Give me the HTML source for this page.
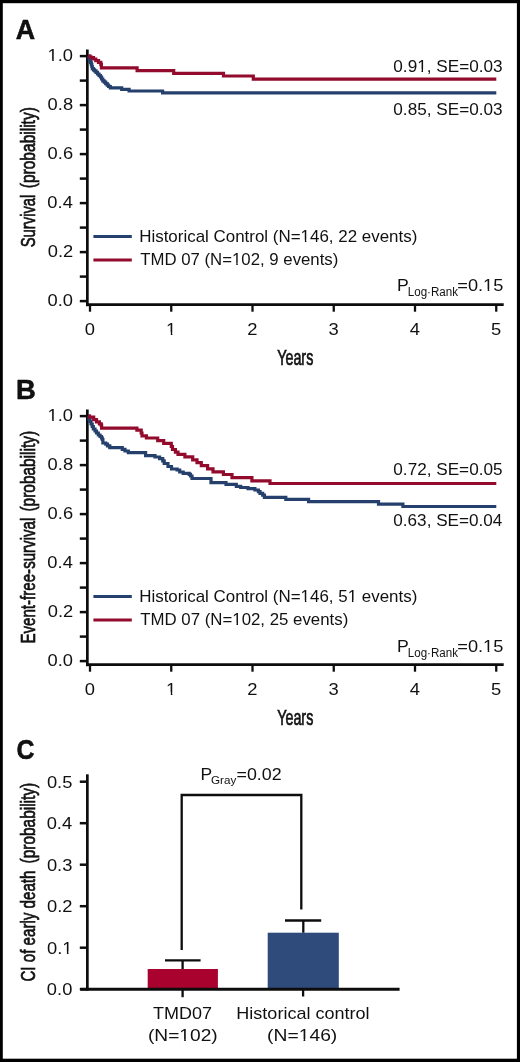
<!DOCTYPE html>
<html><head><meta charset="utf-8"><style>
html,body{margin:0;padding:0;background:#fff;}
#f{position:relative;width:520px;height:1062px;overflow:hidden;background:#fff;}
#f svg{position:absolute;left:0;top:0;will-change:transform;}
text{font-family:"Liberation Sans",sans-serif;}
</style></head><body><div id="f">
<svg width="520" height="1062" viewBox="0 0 520 1062">
<rect x="0" y="0" width="520" height="1062" fill="#fff"/>
<line x1="87.35" y1="49.5" x2="87.35" y2="306.2" stroke="#0d0d0d" stroke-width="2.7" stroke-linecap="butt"/>
<line x1="79.8" y1="56.1" x2="87.3" y2="56.1" stroke="#0d0d0d" stroke-width="2.5" stroke-linecap="butt"/>
<line x1="79.8" y1="80.6" x2="87.3" y2="80.6" stroke="#0d0d0d" stroke-width="2.5" stroke-linecap="butt"/>
<line x1="79.8" y1="105.1" x2="87.3" y2="105.1" stroke="#0d0d0d" stroke-width="2.5" stroke-linecap="butt"/>
<line x1="79.8" y1="129.6" x2="87.3" y2="129.6" stroke="#0d0d0d" stroke-width="2.5" stroke-linecap="butt"/>
<line x1="79.8" y1="154.1" x2="87.3" y2="154.1" stroke="#0d0d0d" stroke-width="2.5" stroke-linecap="butt"/>
<line x1="79.8" y1="178.6" x2="87.3" y2="178.6" stroke="#0d0d0d" stroke-width="2.5" stroke-linecap="butt"/>
<line x1="79.8" y1="203.1" x2="87.3" y2="203.1" stroke="#0d0d0d" stroke-width="2.5" stroke-linecap="butt"/>
<line x1="79.8" y1="227.6" x2="87.3" y2="227.6" stroke="#0d0d0d" stroke-width="2.5" stroke-linecap="butt"/>
<line x1="79.8" y1="252.1" x2="87.3" y2="252.1" stroke="#0d0d0d" stroke-width="2.5" stroke-linecap="butt"/>
<line x1="79.8" y1="276.6" x2="87.3" y2="276.6" stroke="#0d0d0d" stroke-width="2.5" stroke-linecap="butt"/>
<line x1="79.8" y1="301.1" x2="87.3" y2="301.1" stroke="#0d0d0d" stroke-width="2.5" stroke-linecap="butt"/>
<line x1="86.2" y1="304.7" x2="503.7" y2="304.7" stroke="#0d0d0d" stroke-width="2.7" stroke-linecap="butt"/>
<line x1="90.0" y1="304.7" x2="90.0" y2="311.7" stroke="#0d0d0d" stroke-width="2.3" stroke-linecap="butt"/>
<line x1="171.25" y1="304.7" x2="171.25" y2="311.7" stroke="#0d0d0d" stroke-width="2.3" stroke-linecap="butt"/>
<line x1="252.5" y1="304.7" x2="252.5" y2="311.7" stroke="#0d0d0d" stroke-width="2.3" stroke-linecap="butt"/>
<line x1="333.75" y1="304.7" x2="333.75" y2="311.7" stroke="#0d0d0d" stroke-width="2.3" stroke-linecap="butt"/>
<line x1="415.0" y1="304.7" x2="415.0" y2="311.7" stroke="#0d0d0d" stroke-width="2.3" stroke-linecap="butt"/>
<line x1="496.25" y1="304.7" x2="496.25" y2="311.7" stroke="#0d0d0d" stroke-width="2.3" stroke-linecap="butt"/>
<line x1="93.4" y1="236.6" x2="131.8" y2="236.6" stroke="#25406D" stroke-width="3" stroke-linecap="butt"/>
<line x1="93.4" y1="259.9" x2="131.8" y2="259.9" stroke="#930B2C" stroke-width="3" stroke-linecap="butt"/>
<line x1="87.35" y1="409.5" x2="87.35" y2="666.2" stroke="#0d0d0d" stroke-width="2.7" stroke-linecap="butt"/>
<line x1="79.8" y1="416.1" x2="87.3" y2="416.1" stroke="#0d0d0d" stroke-width="2.5" stroke-linecap="butt"/>
<line x1="79.8" y1="440.6" x2="87.3" y2="440.6" stroke="#0d0d0d" stroke-width="2.5" stroke-linecap="butt"/>
<line x1="79.8" y1="465.1" x2="87.3" y2="465.1" stroke="#0d0d0d" stroke-width="2.5" stroke-linecap="butt"/>
<line x1="79.8" y1="489.6" x2="87.3" y2="489.6" stroke="#0d0d0d" stroke-width="2.5" stroke-linecap="butt"/>
<line x1="79.8" y1="514.1" x2="87.3" y2="514.1" stroke="#0d0d0d" stroke-width="2.5" stroke-linecap="butt"/>
<line x1="79.8" y1="538.6" x2="87.3" y2="538.6" stroke="#0d0d0d" stroke-width="2.5" stroke-linecap="butt"/>
<line x1="79.8" y1="563.1" x2="87.3" y2="563.1" stroke="#0d0d0d" stroke-width="2.5" stroke-linecap="butt"/>
<line x1="79.8" y1="587.6" x2="87.3" y2="587.6" stroke="#0d0d0d" stroke-width="2.5" stroke-linecap="butt"/>
<line x1="79.8" y1="612.1" x2="87.3" y2="612.1" stroke="#0d0d0d" stroke-width="2.5" stroke-linecap="butt"/>
<line x1="79.8" y1="636.6" x2="87.3" y2="636.6" stroke="#0d0d0d" stroke-width="2.5" stroke-linecap="butt"/>
<line x1="79.8" y1="661.1" x2="87.3" y2="661.1" stroke="#0d0d0d" stroke-width="2.5" stroke-linecap="butt"/>
<line x1="86.2" y1="664.7" x2="503.7" y2="664.7" stroke="#0d0d0d" stroke-width="2.7" stroke-linecap="butt"/>
<line x1="90.0" y1="664.7" x2="90.0" y2="671.7" stroke="#0d0d0d" stroke-width="2.3" stroke-linecap="butt"/>
<line x1="171.25" y1="664.7" x2="171.25" y2="671.7" stroke="#0d0d0d" stroke-width="2.3" stroke-linecap="butt"/>
<line x1="252.5" y1="664.7" x2="252.5" y2="671.7" stroke="#0d0d0d" stroke-width="2.3" stroke-linecap="butt"/>
<line x1="333.75" y1="664.7" x2="333.75" y2="671.7" stroke="#0d0d0d" stroke-width="2.3" stroke-linecap="butt"/>
<line x1="415.0" y1="664.7" x2="415.0" y2="671.7" stroke="#0d0d0d" stroke-width="2.3" stroke-linecap="butt"/>
<line x1="496.25" y1="664.7" x2="496.25" y2="671.7" stroke="#0d0d0d" stroke-width="2.3" stroke-linecap="butt"/>
<line x1="93.4" y1="596.6" x2="131.8" y2="596.6" stroke="#25406D" stroke-width="3" stroke-linecap="butt"/>
<line x1="93.4" y1="619.9" x2="131.8" y2="619.9" stroke="#930B2C" stroke-width="3" stroke-linecap="butt"/>
<path d="M88.3,56.1 H89 V58 H89.8 V60.6 H90.6 V62.5 H91.25 V64.4 H91.8 V66.5 H92.3 V68.7 H93.5 V69.8 H94.6 V70.8 H96 V72.4 H97.5 V74 H99 V75.5 H100.4 V77 H101.6 V79 H102.8 V80.8 H104.2 V82.2 H105.7 V83.7 H107.2 V85.1 H108.6 V86.5 H110.3 V87.9 H121.7 V89.3 H129.1 V91 H162.6 V92.8 H496.3" fill="none" stroke="#25406D" stroke-width="3.2" stroke-linejoin="miter"/>
<path d="M88.3,56.1 H90 V57 H91.2 V57.6 H93.5 V59 H95.8 V60.6 H98.5 V62.4 H100.8 V64.3 H101.4 V67.8 H137.1 V70.6 H173.7 V73.3 H223.5 V76.0 H253.3 V79.1 H496.3" fill="none" stroke="#930B2C" stroke-width="3.2" stroke-linejoin="miter"/>
<path d="M88.3,416.1 H89 V419 H90 V421.5 H91 V424 H92.2 V426.5 H93.3 V429 H95 V431 H96.5 V433 H98.3 V435 H100 V436.5 H101.5 V438 H102.3 V439.5 H102.9 V443 H105.8 V444.2 H107.5 V445.8 H109.8 V447.7 H122.3 V449.4 H125 V451 H128.3 V452.6 H145.6 V455.6 H155 V457 H159.6 V458.6 H162.7 V460.8 H164.2 V463.5 H168 V466.5 H171.5 V469 H177.1 V470 H179.7 V472 H183.2 V473.3 H189.2 V474.3 H190.5 V476 H192 V478.5 H211 V482.7 H226 V484.4 H236.3 V486.4 H240.7 V487.5 H248 V488.7 H254.9 V490 H258.4 V491.6 H260 V493.4 H262.7 V495.1 H264.4 V497.3 H285.8 V499.4 H308.6 V501.7 H378.5 V504.2 H402.9 V506.5 H496.3" fill="none" stroke="#25406D" stroke-width="3.2" stroke-linejoin="miter"/>
<path d="M88.3,416.1 H89.5 V417.1 H93.7 V419.6 H96.5 V421.9 H99.4 V423.8 H101.2 V425.2 H101.6 V428.1 H136.9 V430.2 H141.2 V433 H142 V435.8 H146.4 V438 H157.7 V440.6 H163.7 V443.3 H171.3 V446.5 H172.5 V449.5 H175.4 V452.1 H178 V454.3 H184.9 V456.9 H192.7 V459.9 H197 V462.6 H201.3 V465.7 H207.6 V468.8 H213 V471.9 H223.4 V474.5 H232 V477.7 H251.9 V480.8 H270 V483.5 H496.3" fill="none" stroke="#930B2C" stroke-width="3.2" stroke-linejoin="miter"/>
<line x1="87.35" y1="774.3" x2="87.35" y2="990.6" stroke="#0d0d0d" stroke-width="2.7" stroke-linecap="butt"/>
<line x1="79.8" y1="781.7" x2="87.3" y2="781.7" stroke="#0d0d0d" stroke-width="2.5" stroke-linecap="butt"/>
<line x1="79.8" y1="823.2" x2="87.3" y2="823.2" stroke="#0d0d0d" stroke-width="2.5" stroke-linecap="butt"/>
<line x1="79.8" y1="864.7" x2="87.3" y2="864.7" stroke="#0d0d0d" stroke-width="2.5" stroke-linecap="butt"/>
<line x1="79.8" y1="906.2" x2="87.3" y2="906.2" stroke="#0d0d0d" stroke-width="2.5" stroke-linecap="butt"/>
<line x1="79.8" y1="947.7" x2="87.3" y2="947.7" stroke="#0d0d0d" stroke-width="2.5" stroke-linecap="butt"/>
<line x1="79.8" y1="989.2" x2="87.3" y2="989.2" stroke="#0d0d0d" stroke-width="2.5" stroke-linecap="butt"/>
<rect x="147.7" y="969" width="70.2" height="20.2" fill="#A9022F"/>
<rect x="267.7" y="932.7" width="71.1" height="56.5" fill="#2E4B7B"/>
<line x1="80.3" y1="989.2" x2="399.6" y2="989.2" stroke="#0d0d0d" stroke-width="3" stroke-linecap="butt"/>
<line x1="182.6" y1="989.2" x2="182.6" y2="997.2" stroke="#0d0d0d" stroke-width="2.3" stroke-linecap="butt"/>
<line x1="303.1" y1="989.2" x2="303.1" y2="996.5" stroke="#0d0d0d" stroke-width="2.3" stroke-linecap="butt"/>
<line x1="182.6" y1="969" x2="182.6" y2="960.4" stroke="#0d0d0d" stroke-width="2.3" stroke-linecap="butt"/>
<line x1="165" y1="960.4" x2="200.6" y2="960.4" stroke="#0d0d0d" stroke-width="2.3" stroke-linecap="butt"/>
<line x1="303.3" y1="932.7" x2="303.3" y2="920.2" stroke="#0d0d0d" stroke-width="2.3" stroke-linecap="butt"/>
<line x1="285" y1="920.5" x2="321.2" y2="920.5" stroke="#0d0d0d" stroke-width="2.3" stroke-linecap="butt"/>
<path d="M181.7,950 V795 H301.3 V909.6" fill="none" stroke="#0d0d0d" stroke-width="2.3"/>
<text x="15.83" y="38.90" textLength="19.38" lengthAdjust="spacingAndGlyphs" font-size="26.8" font-weight="bold" fill="#111" stroke="#000" stroke-width="0.5" stroke-linejoin="round">A</text>
<text x="16.07" y="398.70" textLength="19.77" lengthAdjust="spacingAndGlyphs" font-size="26.8" font-weight="bold" fill="#111" stroke="#000" stroke-width="0.5" stroke-linejoin="round">B</text>
<text x="16.58" y="759.10" textLength="18.00" lengthAdjust="spacingAndGlyphs" font-size="28.2" font-weight="bold" fill="#111" stroke="#000" stroke-width="0.5" stroke-linejoin="round">C</text>
<text x="139.21" y="242.00" textLength="278.14" lengthAdjust="spacingAndGlyphs" font-size="17" font-weight="normal" fill="#111" >Historical Control (N=146, 22 events)</text>
<text x="140.22" y="264.90" textLength="198.12" lengthAdjust="spacingAndGlyphs" font-size="17" font-weight="normal" fill="#111" >TMD 07 (N=102, 9 events)</text>
<text x="393.33" y="71.55" textLength="109.22" lengthAdjust="spacingAndGlyphs" font-size="17" font-weight="normal" fill="#111" >0.91, SE=0.03</text>
<text x="393.33" y="114.80" textLength="109.22" lengthAdjust="spacingAndGlyphs" font-size="17" font-weight="normal" fill="#111" >0.85, SE=0.03</text>
<text x="396.95" y="291.20" textLength="11.78" lengthAdjust="spacingAndGlyphs" font-size="17" font-weight="normal" fill="#111" >P</text>
<text x="407.75" y="295.80" textLength="50.23" lengthAdjust="spacingAndGlyphs" font-size="12" font-weight="normal" fill="#111" >Log·Rank</text>
<text x="457.31" y="291.30" textLength="46.05" lengthAdjust="spacingAndGlyphs" font-size="17" font-weight="normal" fill="#111" >=0.15</text>
<text x="277.18" y="364.60" textLength="36.13" lengthAdjust="spacingAndGlyphs" font-size="21.7" font-weight="normal" fill="#111" stroke="#111" stroke-width="0.7">Years</text>
<text transform="translate(34.60,247.37) rotate(-90)" x="0" y="0" textLength="52.77" lengthAdjust="spacingAndGlyphs" font-size="21" font-weight="normal" fill="#111" stroke="#111" stroke-width="0.7">Survival</text>
<text transform="translate(34.60,188.26) rotate(-90)" x="0" y="0" textLength="81.13" lengthAdjust="spacingAndGlyphs" font-size="21" font-weight="normal" fill="#111" stroke="#111" stroke-width="0.7">(probability)</text>
<text x="73.02" y="61.40" text-anchor="end" textLength="25.46" lengthAdjust="spacingAndGlyphs" font-size="17" font-weight="normal" fill="#111" >1.0</text>
<text x="73.10" y="110.40" text-anchor="end" textLength="25.46" lengthAdjust="spacingAndGlyphs" font-size="17" font-weight="normal" fill="#111" >0.8</text>
<text x="73.10" y="159.40" text-anchor="end" textLength="25.46" lengthAdjust="spacingAndGlyphs" font-size="17" font-weight="normal" fill="#111" >0.6</text>
<text x="72.84" y="208.40" text-anchor="end" textLength="25.46" lengthAdjust="spacingAndGlyphs" font-size="17" font-weight="normal" fill="#111" >0.4</text>
<text x="73.22" y="257.40" text-anchor="end" textLength="25.46" lengthAdjust="spacingAndGlyphs" font-size="17" font-weight="normal" fill="#111" >0.2</text>
<text x="73.02" y="306.40" text-anchor="end" textLength="25.46" lengthAdjust="spacingAndGlyphs" font-size="17" font-weight="normal" fill="#111" >0.0</text>
<text x="90.00" y="334.60" text-anchor="middle" textLength="10.23" lengthAdjust="spacingAndGlyphs" font-size="17" font-weight="normal" fill="#111" >0</text>
<text x="171.25" y="334.60" text-anchor="middle" textLength="10.23" lengthAdjust="spacingAndGlyphs" font-size="17" font-weight="normal" fill="#111" >1</text>
<text x="252.50" y="334.60" text-anchor="middle" textLength="10.23" lengthAdjust="spacingAndGlyphs" font-size="17" font-weight="normal" fill="#111" >2</text>
<text x="333.75" y="334.60" text-anchor="middle" textLength="10.23" lengthAdjust="spacingAndGlyphs" font-size="17" font-weight="normal" fill="#111" >3</text>
<text x="415.00" y="334.60" text-anchor="middle" textLength="10.23" lengthAdjust="spacingAndGlyphs" font-size="17" font-weight="normal" fill="#111" >4</text>
<text x="496.25" y="334.60" text-anchor="middle" textLength="10.23" lengthAdjust="spacingAndGlyphs" font-size="17" font-weight="normal" fill="#111" >5</text>
<text x="139.21" y="602.30" textLength="278.14" lengthAdjust="spacingAndGlyphs" font-size="17" font-weight="normal" fill="#111" >Historical Control (N=146, 51 events)</text>
<text x="140.22" y="625.30" textLength="208.02" lengthAdjust="spacingAndGlyphs" font-size="17" font-weight="normal" fill="#111" >TMD 07 (N=102, 25 events)</text>
<text x="393.33" y="474.90" textLength="109.19" lengthAdjust="spacingAndGlyphs" font-size="17" font-weight="normal" fill="#111" >0.72, SE=0.05</text>
<text x="393.33" y="525.80" textLength="108.97" lengthAdjust="spacingAndGlyphs" font-size="17" font-weight="normal" fill="#111" >0.63, SE=0.04</text>
<text x="396.95" y="652.10" textLength="11.78" lengthAdjust="spacingAndGlyphs" font-size="17" font-weight="normal" fill="#111" >P</text>
<text x="407.75" y="656.70" textLength="50.23" lengthAdjust="spacingAndGlyphs" font-size="12" font-weight="normal" fill="#111" >Log·Rank</text>
<text x="457.31" y="652.20" textLength="46.05" lengthAdjust="spacingAndGlyphs" font-size="17" font-weight="normal" fill="#111" >=0.15</text>
<text x="277.18" y="724.60" textLength="36.13" lengthAdjust="spacingAndGlyphs" font-size="21.7" font-weight="normal" fill="#111" stroke="#111" stroke-width="0.7">Years</text>
<text transform="translate(34.60,643.54) rotate(-90)" x="0" y="0" textLength="125.85" lengthAdjust="spacingAndGlyphs" font-size="21" font-weight="normal" fill="#111" stroke="#111" stroke-width="0.7">Event-free-survival</text>
<text transform="translate(34.60,511.56) rotate(-90)" x="0" y="0" textLength="80.61" lengthAdjust="spacingAndGlyphs" font-size="21" font-weight="normal" fill="#111" stroke="#111" stroke-width="0.7">(probability)</text>
<text x="73.02" y="421.40" text-anchor="end" textLength="25.46" lengthAdjust="spacingAndGlyphs" font-size="17" font-weight="normal" fill="#111" >1.0</text>
<text x="73.10" y="470.40" text-anchor="end" textLength="25.46" lengthAdjust="spacingAndGlyphs" font-size="17" font-weight="normal" fill="#111" >0.8</text>
<text x="73.10" y="519.40" text-anchor="end" textLength="25.46" lengthAdjust="spacingAndGlyphs" font-size="17" font-weight="normal" fill="#111" >0.6</text>
<text x="72.84" y="568.40" text-anchor="end" textLength="25.46" lengthAdjust="spacingAndGlyphs" font-size="17" font-weight="normal" fill="#111" >0.4</text>
<text x="73.22" y="617.40" text-anchor="end" textLength="25.46" lengthAdjust="spacingAndGlyphs" font-size="17" font-weight="normal" fill="#111" >0.2</text>
<text x="73.02" y="666.40" text-anchor="end" textLength="25.46" lengthAdjust="spacingAndGlyphs" font-size="17" font-weight="normal" fill="#111" >0.0</text>
<text x="90.00" y="694.60" text-anchor="middle" textLength="10.23" lengthAdjust="spacingAndGlyphs" font-size="17" font-weight="normal" fill="#111" >0</text>
<text x="171.25" y="694.60" text-anchor="middle" textLength="10.23" lengthAdjust="spacingAndGlyphs" font-size="17" font-weight="normal" fill="#111" >1</text>
<text x="252.50" y="694.60" text-anchor="middle" textLength="10.23" lengthAdjust="spacingAndGlyphs" font-size="17" font-weight="normal" fill="#111" >2</text>
<text x="333.75" y="694.60" text-anchor="middle" textLength="10.23" lengthAdjust="spacingAndGlyphs" font-size="17" font-weight="normal" fill="#111" >3</text>
<text x="415.00" y="694.60" text-anchor="middle" textLength="10.23" lengthAdjust="spacingAndGlyphs" font-size="17" font-weight="normal" fill="#111" >4</text>
<text x="496.25" y="694.60" text-anchor="middle" textLength="10.23" lengthAdjust="spacingAndGlyphs" font-size="17" font-weight="normal" fill="#111" >5</text>
<text x="72.37" y="787.70" text-anchor="end" textLength="25.46" lengthAdjust="spacingAndGlyphs" font-size="17" font-weight="normal" fill="#111" >0.5</text>
<text x="72.14" y="829.20" text-anchor="end" textLength="25.46" lengthAdjust="spacingAndGlyphs" font-size="17" font-weight="normal" fill="#111" >0.4</text>
<text x="72.40" y="870.70" text-anchor="end" textLength="25.46" lengthAdjust="spacingAndGlyphs" font-size="17" font-weight="normal" fill="#111" >0.3</text>
<text x="72.52" y="912.20" text-anchor="end" textLength="25.46" lengthAdjust="spacingAndGlyphs" font-size="17" font-weight="normal" fill="#111" >0.2</text>
<text x="72.49" y="953.70" text-anchor="end" textLength="25.46" lengthAdjust="spacingAndGlyphs" font-size="17" font-weight="normal" fill="#111" >0.1</text>
<text x="72.32" y="995.20" text-anchor="end" textLength="25.46" lengthAdjust="spacingAndGlyphs" font-size="17" font-weight="normal" fill="#111" >0.0</text>
<text transform="translate(34.60,981.57) rotate(-90)" x="0" y="0" textLength="111.05" lengthAdjust="spacingAndGlyphs" font-size="21" font-weight="normal" fill="#111" stroke="#111" stroke-width="0.7">CI of early death</text>
<text transform="translate(34.60,863.46) rotate(-90)" x="0" y="0" textLength="80.61" lengthAdjust="spacingAndGlyphs" font-size="21" font-weight="normal" fill="#111" stroke="#111" stroke-width="0.7">(probability)</text>
<text x="200.47" y="779.90" textLength="11.65" lengthAdjust="spacingAndGlyphs" font-size="17" font-weight="normal" fill="#111" >P</text>
<text x="211.01" y="784.40" textLength="25.31" lengthAdjust="spacingAndGlyphs" font-size="11" font-weight="normal" fill="#111" >Gray</text>
<text x="236.53" y="779.90" textLength="45.07" lengthAdjust="spacingAndGlyphs" font-size="17" font-weight="normal" fill="#111" >=0.02</text>
<text x="153.10" y="1019.40" textLength="59.01" lengthAdjust="spacingAndGlyphs" font-size="17" font-weight="normal" fill="#111" >TMD07</text>
<text x="148.01" y="1041.20" textLength="69.67" lengthAdjust="spacingAndGlyphs" font-size="17" font-weight="normal" fill="#111" >(N=102)</text>
<text x="236.32" y="1019.40" textLength="133.29" lengthAdjust="spacingAndGlyphs" font-size="17" font-weight="normal" fill="#111" >Historical control</text>
<text x="267.10" y="1041.20" textLength="70.19" lengthAdjust="spacingAndGlyphs" font-size="17" font-weight="normal" fill="#111" >(N=146)</text>
<rect x="301.18" y="239.73" width="3.68" height="2.87" fill="#fff"/>
<rect x="306.36" y="239.73" width="3.55" height="2.87" fill="#fff"/>
<rect x="232.60" y="262.63" width="3.64" height="2.87" fill="#fff"/>
<rect x="237.73" y="262.63" width="3.51" height="2.87" fill="#fff"/>
<rect x="417.78" y="69.28" width="3.71" height="2.87" fill="#fff"/>
<rect x="423.01" y="69.28" width="3.58" height="2.87" fill="#fff"/>
<rect x="483.79" y="289.03" width="3.89" height="2.87" fill="#fff"/>
<rect x="489.30" y="289.03" width="3.75" height="2.87" fill="#fff"/>
<rect x="48.26" y="59.13" width="3.91" height="2.87" fill="#fff"/>
<rect x="53.79" y="59.13" width="3.77" height="2.87" fill="#fff"/>
<rect x="166.84" y="332.33" width="3.92" height="2.87" fill="#fff"/>
<rect x="172.39" y="332.33" width="3.78" height="2.87" fill="#fff"/>
<rect x="301.18" y="600.03" width="3.68" height="2.87" fill="#fff"/>
<rect x="306.36" y="600.03" width="3.55" height="2.87" fill="#fff"/>
<rect x="348.26" y="600.03" width="3.67" height="2.87" fill="#fff"/>
<rect x="353.43" y="600.03" width="3.54" height="2.87" fill="#fff"/>
<rect x="232.85" y="623.03" width="3.65" height="2.87" fill="#fff"/>
<rect x="238.00" y="623.03" width="3.52" height="2.87" fill="#fff"/>
<rect x="483.79" y="649.93" width="3.89" height="2.87" fill="#fff"/>
<rect x="489.30" y="649.93" width="3.75" height="2.87" fill="#fff"/>
<rect x="48.26" y="419.13" width="3.91" height="2.87" fill="#fff"/>
<rect x="53.79" y="419.13" width="3.77" height="2.87" fill="#fff"/>
<rect x="166.84" y="692.33" width="3.92" height="2.87" fill="#fff"/>
<rect x="172.39" y="692.33" width="3.78" height="2.87" fill="#fff"/>
<rect x="62.99" y="951.43" width="3.91" height="2.87" fill="#fff"/>
<rect x="68.52" y="951.43" width="3.77" height="2.87" fill="#fff"/>
<rect x="180.13" y="1038.93" width="4.06" height="2.87" fill="#fff"/>
<rect x="185.88" y="1038.93" width="3.91" height="2.87" fill="#fff"/>
<rect x="299.47" y="1038.93" width="4.08" height="2.87" fill="#fff"/>
<rect x="305.26" y="1038.93" width="3.93" height="2.87" fill="#fff"/>
<rect x="0" y="0" width="520" height="3.2" fill="#000"/>
<rect x="0" y="0" width="2.8" height="1062" fill="#000"/>
<rect x="516.9" y="0" width="3.1" height="1062" fill="#000"/>
<rect x="0" y="1058.7" width="520" height="3.3" fill="#000"/>
</svg></div></body></html>
